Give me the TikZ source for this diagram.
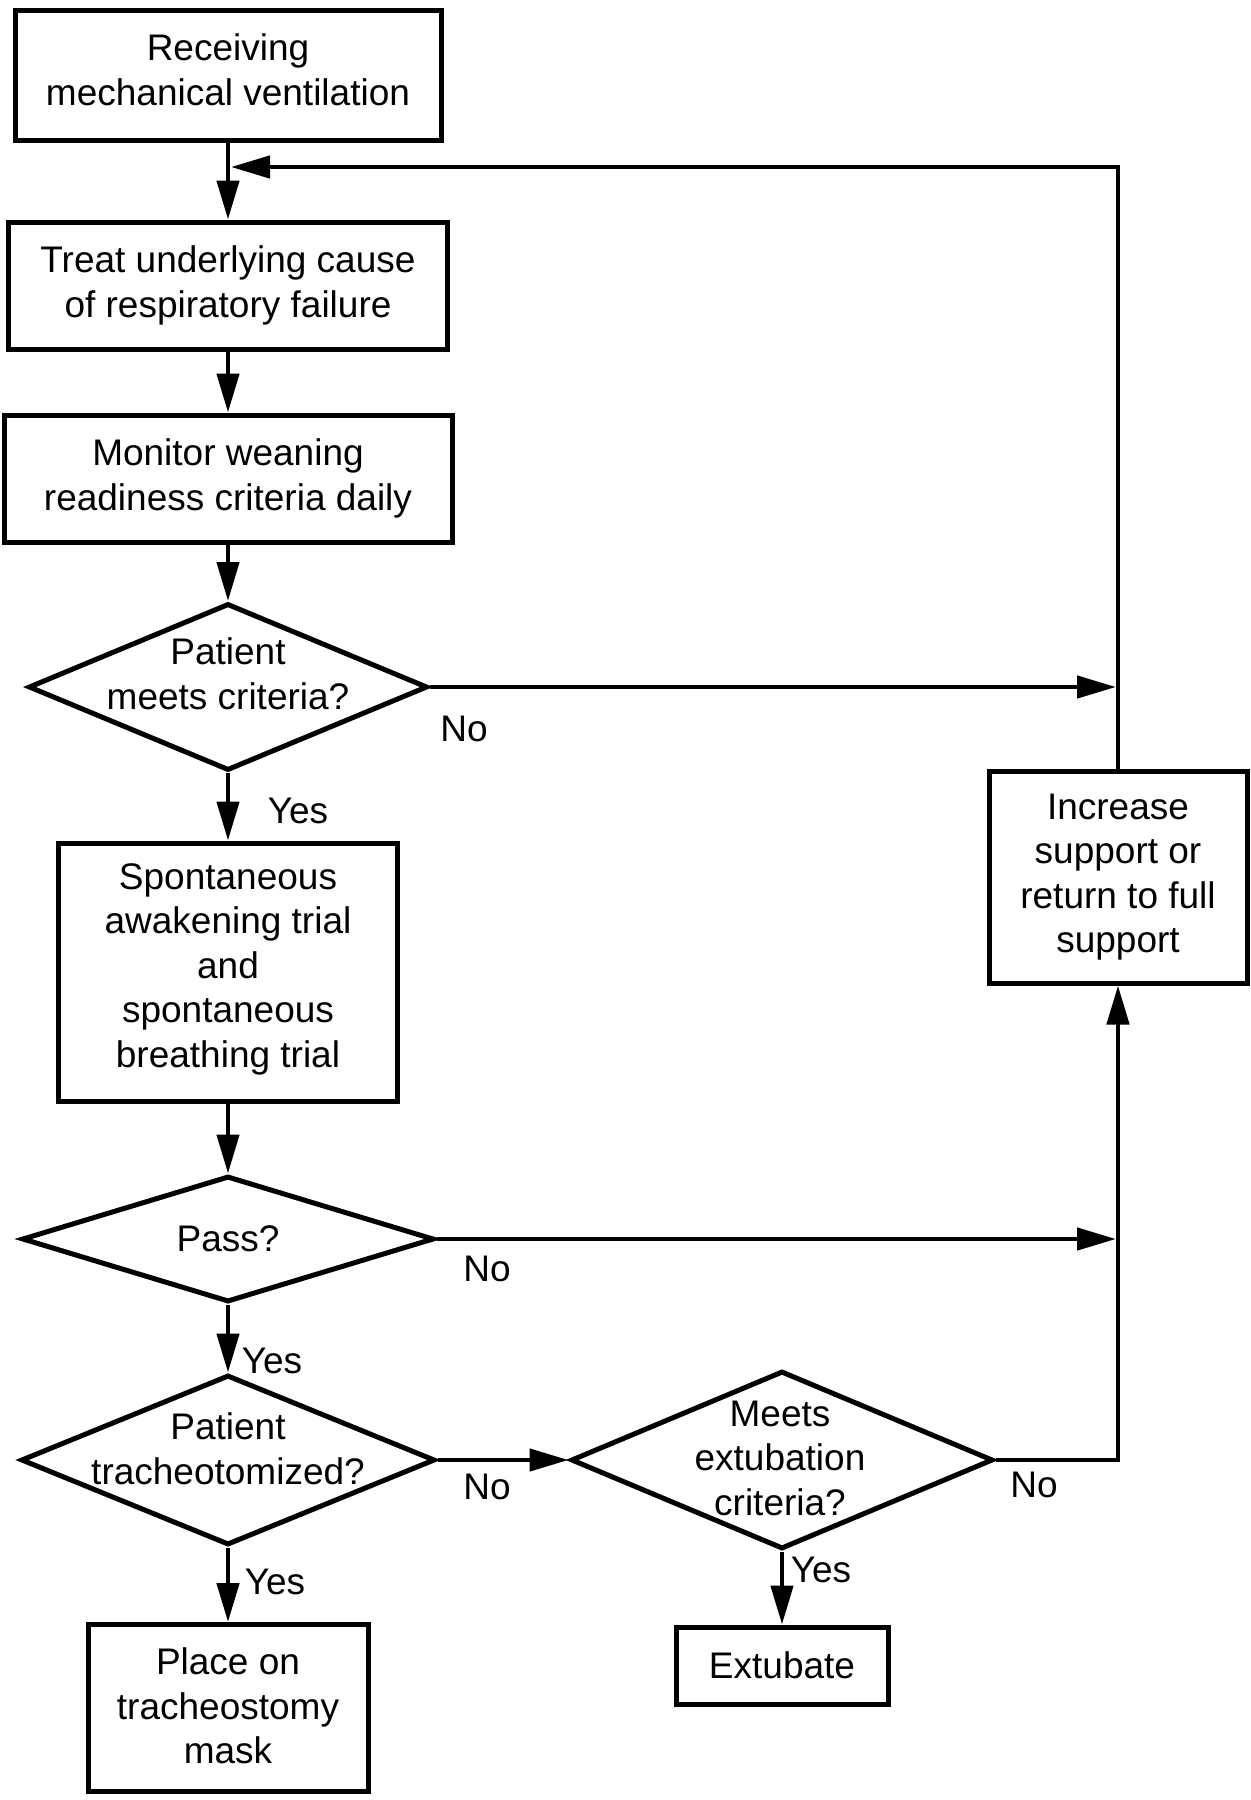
\documentclass[tikz,border=0pt]{standalone}
\usepackage{fontspec}
\setmainfont{Liberation Sans}
\usetikzlibrary{shapes.geometric,arrows.meta}
\begin{document}
\begin{tikzpicture}[x=0.5pt,y=-0.5pt,
  every node/.style={font=\fontsize{18.5}{22.25}\selectfont},
  box/.style={draw, line width=2.5pt, rectangle, inner sep=0pt, align=center},
  dia/.style={draw, line width=2.5pt, diamond, inner sep=0pt},
  dtext/.style={inner sep=0pt, align=center},
  lbl/.style={inner sep=0pt, text height=0.716em, text depth=0pt},
  arr/.style={line width=2.3pt, -{Triangle[length=19.5pt,width=11pt]}}]
\useasboundingbox (0,0) rectangle (1251,1800);
% main column
\node[box, minimum width=213pt, minimum height=65pt] (b1) at (228,75) {};
\node[dtext] (b1t) at (228,70) {Receiving\\mechanical ventilation};
\node[box, minimum width=219.5pt, minimum height=63.5pt] (b2) at (228,285.5) {Treat underlying cause\\of respiratory failure};
\node[box, minimum width=224pt, minimum height=63.5pt] (b3) at (228,478.5) {Monitor weaning\\readiness criteria daily};
\node[dia, minimum width=199.5pt, minimum height=83.5pt] (d1) at (228,687) {};
\node[dtext] (d1t) at (228,674) {Patient\\meets criteria?};
\node[box, minimum width=169.5pt, minimum height=129pt] (b4) at (228,972) {};
\node[dtext] (b4t) at (228,969) {Spontaneous\\awakening trial\\and\\spontaneous\\breathing trial};
\node[dia, minimum width=206pt, minimum height=63pt] (d2) at (228,1239) {};
\node[dtext] (d2t) at (228,1239) {Pass?};
\node[dia, minimum width=207pt, minimum height=85pt] (d3) at (228,1460) {};
\node[dtext] (d3t) at (228,1449) {Patient\\tracheotomized?};
\node[box, minimum width=140pt, minimum height=83.5pt] (b5) at (228,1708) {};
\node[dtext] (b5t) at (228,1706) {Place on\\tracheostomy\\mask};
% right part
\node[dia, minimum width=211pt, minimum height=89pt] (d4) at (782,1460) {};
\node[dtext] (d4t) at (780,1458) {Meets\\extubation\\criteria?};
\node[box, minimum width=106pt, minimum height=38.5pt] (b7) at (782,1665.5) {Extubate};
\node[box, minimum width=129pt, minimum height=106pt] (b6) at (1118,877) {Increase\\support or\\return to full\\support};
% labels
\node[lbl] (n1) at (464,734) {No};
\node[lbl] (y1) at (298,816) {Yes};
\node[lbl] (n2) at (487,1274) {No};
\node[lbl] (y2) at (272,1366) {Yes};
\node[lbl] (n3) at (487,1492) {No};
\node[lbl] (y3) at (275,1587) {Yes};
\node[lbl] (n4) at (1034,1490) {No};
\node[lbl] (y4) at (821,1575) {Yes};
% junctions
\coordinate (j1) at (1116,687);
\coordinate (j2) at (1116,1239);
\coordinate (jl) at (231,167);
% connectors
\draw[arr] (b1.south) -- (b2.north);
\draw[arr] (b2.south) -- (b3.north);
\draw[arr] (b3.south) -- (d1.north);
\draw[arr] (d1.south) -- (b4.north);
\draw[arr] (b4.south) -- (d2.north);
\draw[arr] (d2.south) -- (d3.north);
\draw[arr] (d3.south) -- (b5.north);
\draw[arr] (d3.east) -- (d4.west);
\draw[arr] (d4.south) -- (b7.north);
\draw[arr] (d1.east) -- (j1);
\draw[arr] (d2.east) -- (j2);
\draw[arr] (d4.east) -| (b6.south);
\draw[arr] (b6.north) |- (jl);
\end{tikzpicture}
\end{document}
